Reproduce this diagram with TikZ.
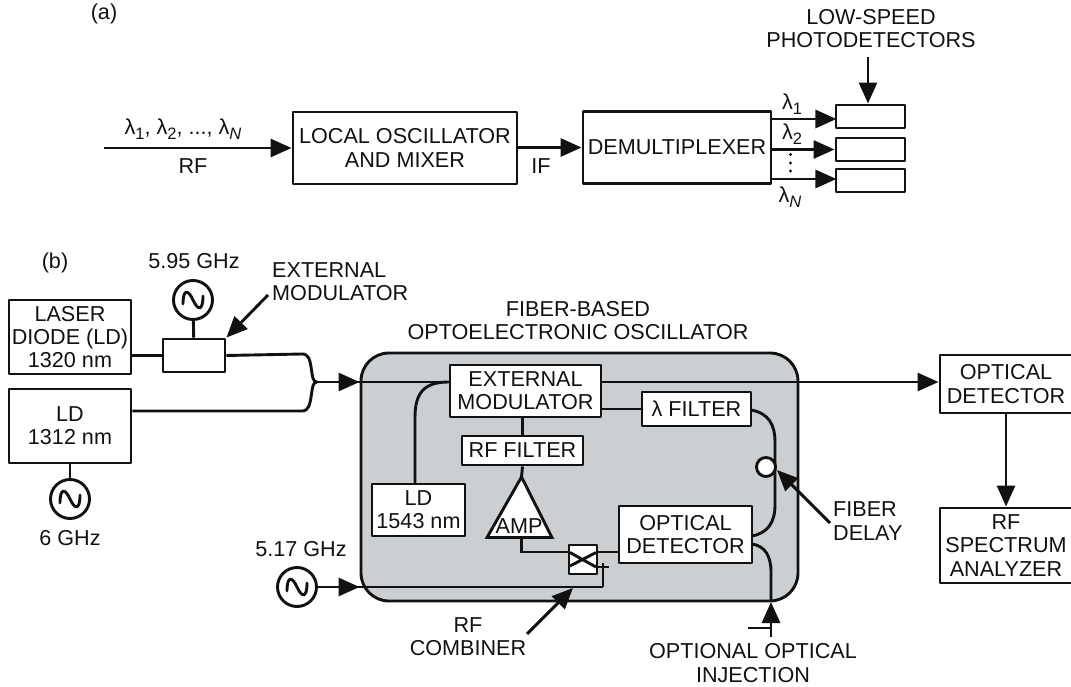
\documentclass[tikz,border=0pt]{standalone}
\usepackage{fontspec}
\setmainfont{Liberation Sans}
\usetikzlibrary{arrows.meta}
\definecolor{zone}{HTML}{CBCFD2}
\definecolor{ink}{HTML}{111111}
\newcommand{\lamsub}[1]{λ\raisebox{-5pt}{\fontsize{16.5}{16.5}\selectfont #1}}
\tikzset{
  lbl/.style={inner sep=0pt,align=center,font=\fontsize{21.6}{23.2}\selectfont,text=ink},
  lblleft/.style={lbl,align=left},
  bx/.style={draw=ink,line width=2.9pt,line join=round,fill=white,inner sep=0pt,align=center,font=\fontsize{21.6}{23.2}\selectfont,text=ink},
  src/.style={circle,draw=ink,line width=2.9pt,fill=white,inner sep=0pt,minimum size=39pt},
  wire/.style={draw=ink,line width=2.9pt},
  arr/.style={wire,-{Triangle[length=21pt,width=18pt]}},
  sine/.style={draw=ink,line width=2.9pt,line cap=round},
}
\newcommand{\sinewave}[1]{\draw[sine] ([shift={(-10pt,-4pt)}]#1.center) .. controls +(0pt,15pt) and +(-5pt,11pt) .. (#1.center) .. controls +(5pt,-11pt) and +(0pt,-15pt) .. ([shift={(10pt,4pt)}]#1.center);}
\begin{document}
\begin{tikzpicture}[x=1pt,y=-1pt]
\useasboundingbox (0,0) rectangle (1071,687);
% --- part (a)
\node[lbl] (ta) at (104,14) {(a)};
\node[bx,minimum width=224pt,minimum height=72pt] (lo) at (405,148) {LOCAL OSCILLATOR\\AND MIXER};
\node[bx,minimum width=188pt,minimum height=72pt] (dm) at (677,147.5) {DEMULTIPLEXER};
\node[bx,minimum width=69pt,minimum height=23pt] (d1) at (870.5,116.5) {};
\node[bx,minimum width=69pt,minimum height=23pt] (d2) at (870.5,149.5) {};
\node[bx,minimum width=69pt,minimum height=23pt] (d3) at (870.5,180.5) {};
\coordinate (in) at (104,148);
\node[lbl] (lams) at (183,129) {\lamsub{1}, \lamsub{2}, ..., λ\raisebox{-5pt}{\fontsize{16.5}{16.5}\selectfont\textit{N}}};
\node[lbl] (rf) at (193,166) {RF};
\node[lbl] (ifl) at (541,166) {IF};
\draw[arr] (in) -- (in -| lo.west);
\draw[arr] (lo.east |- dm.center) -- (dm.west);
\draw[arr] (dm.east |- d1.center) ++(0,2.5) -- ++(64,0) coordinate (a1);
\draw[arr] (dm.east |- d2.center) -- (d2.west);
\draw[arr] (dm.east |- d3.center) ++(0,-1.5) -- ++(64,0) coordinate (a3);
\node[lbl] (l1) at (792,104) {\lamsub{1}};
\node[lbl] (l2) at (792,134) {\lamsub{2}};
\node[lbl] (l3) at (790,197) {λ\raisebox{-5pt}{\fontsize{16.5}{16.5}\selectfont\textit{N}}};
\node[lbl] (lsp) at (871,28.5) {LOW-SPEED\\PHOTODETECTORS};
\coordinate (lspb) at (868,57);
\draw[arr] (lspb) -- (lspb |- d1.north);
\fill[ink] (790.5,154.5) circle (1.7pt) (790.5,163) circle (1.7pt) (790.5,171) circle (1.7pt);
% --- part (b)
\node[lbl] (tb) at (55,263) {(b)};
\node[bx,minimum width=122pt,minimum height=74pt] (laser) at (70,337) {LASER\\DIODE (LD)\\1320 nm};
\node[bx,minimum width=122pt,minimum height=74pt] (ld2) at (70,426) {LD\\1312 nm};
\node[src] (s1) at (193,300) {};
\sinewave{s1}
\node[src] (s2) at (70,499) {};
\sinewave{s2}
\node[bx,minimum width=62pt,minimum height=33pt] (xm) at (194,355.5) {};
\node[lbl] (f1) at (194,261) {5.95 GHz};
\node[lblleft] (xml) at (272,282) [anchor=west] {EXTERNAL\\MODULATOR};
\node[lbl] (f2) at (70,538) {6 GHz};
\draw[wire] (s1) -- (xm);
\draw[wire] (s2) -- (ld2);
\coordinate (xa) at (268,295);
\draw[arr] (xa) -- (xm.north east);
\coordinate (j) at (317,382);
\draw[wire] (laser.east |- xm.center) -- (xm.west);
\draw[wire] (xm.east) -- (302,354) .. controls (309,354) and (310,360) .. (311.5,370) .. controls (312.5,377) and (313,382) .. (j);
\draw[wire] (ld2.east |- 0,411) -- (302,411) .. controls (309,411) and (310,404) .. (311.5,394) .. controls (312.5,387) and (313,382) .. (j);
\node[lbl] (fb) at (578,320.5) {FIBER-BASED\\OPTOELECTRONIC OSCILLATOR};
% zone
\node[draw=ink,line width=2.9pt,fill=zone,rounded corners=28pt,minimum width=437pt,minimum height=248pt,inner sep=0pt] (zone) at (579.5,477) {};
\node[bx,minimum width=151pt,minimum height=52pt] (em) at (525.5,391) {EXTERNAL\\MODULATOR};
\node[bx,minimum width=109pt,minimum height=34pt] (lf) at (696.5,409) {λ FILTER};
\node[bx,minimum width=121pt,minimum height=29pt] (rff) at (522.5,450.5) {RF FILTER};
\node[bx,minimum width=93pt,minimum height=52pt] (ld3) at (418.5,510) {LD\\1543 nm};
\node[bx,minimum width=133pt,minimum height=57pt] (od) at (685.5,534.5) {OPTICAL\\DETECTOR};
\node[bx,minimum width=28pt,minimum height=29pt] (cb) at (583,559.5) {};
\coordinate (apex) at (521.5,477);
\coordinate (bl) at (487,537.5);
\coordinate (br) at (552,537.5);
\coordinate (bm) at (521.5,537.5);
\draw[wire,fill=white,line join=miter] (apex) -- (br) -- (bl) -- cycle;
\node[lbl] (amp) at (519,526) {AMP};
\draw[wire] (em.south -| rff.north) -- (rff.north);
\draw[wire] (rff.south) -- (apex);
\draw[wire] (bm) -- (521.5,552) -- (cb.west |- 0,552);
\draw[wire] (570,552.5) -- (596,567) (570,566) -- (596,552.5);
\draw[wire] (cb.east |- 0,552) -- (od.west |- 0,552);
\draw[wire] (597,567) -- (609,567);
\coordinate (s3j) at (603,587);
\draw[wire] (603,563) -- (s3j);
\node[src] (s3) at (297,587) {};
\sinewave{s3}
\node[lbl] (f3) at (301,549) {5.17 GHz};
\draw[wire] (s3) -- (s3j);
\draw[arr] (s3.east) -- (zone.west |- s3j);
% main line
\draw[arr] (j) -- (zone.west |- j);
\draw[wire] (j) -- (em.west |- j);
\draw[wire] (em.west |- j) .. controls (425,382) and (415,392) .. (415,417) -- (415,484);
\draw[wire] (em.east |- lf.center) -- (lf.west);
\node[bx,minimum width=132pt,minimum height=58pt] (od2) at (1006,384) {OPTICAL\\DETECTOR};
\draw[arr] (em.east |- j) -- (od2.west |- j);
\node[bx,minimum width=132pt,minimum height=75pt] (sa) at (1006,545.5) {RF\\SPECTRUM\\ANALYZER};
\draw[arr] (od2.south) -- (od2.south |- sa.north);
% fibre delay
\draw[wire] (751,410) .. controls (768,413) and (775,424) .. (775,442) -- (775,505) .. controls (775,522) and (768,533) .. (752,536);
\node[circle,draw=ink,line width=2.9pt,fill=white,inner sep=0pt,minimum size=19pt] (fd) at (766,467) {};
\coordinate (fda) at (830,523);
\draw[arr] (fda) -- (777,470);
\node[lblleft] (fdl) at (833,521) [anchor=west] {FIBER\\DELAY};
% injection
\coordinate (inj) at (771,637);
\draw[wire] (752,544) .. controls (765,546) and (771,556) .. (771,572) -- (771,600);
\draw[arr] (inj) -- (771,602);
\draw[wire] (inj |- 0,628) -- (748,628);
\node[lbl] (ojl) at (753,663) {OPTIONAL OPTICAL\\INJECTION};
% combiner
\coordinate (ca) at (527,634);
\draw[arr] (ca) -- (573,588);
\node[lbl] (cl) at (468,636.5) {RF\\COMBINER};
\end{tikzpicture}
\end{document}
